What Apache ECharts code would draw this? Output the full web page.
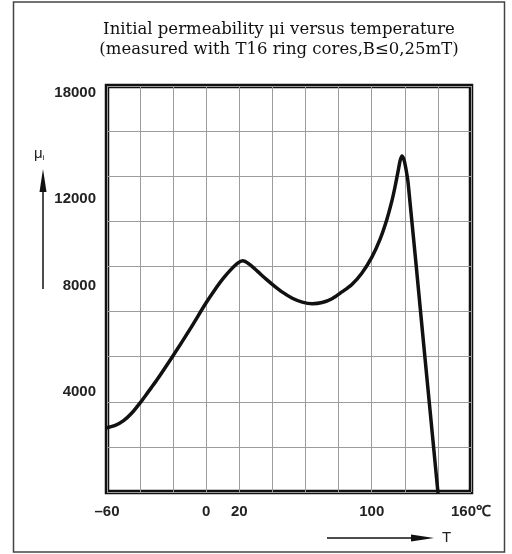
<!DOCTYPE html>
<html>
<head>
<meta charset="utf-8">
<script src="https://cdn.jsdelivr.net/npm/echarts@6/dist/echarts.min.js"></script>
<style>
  html, body { margin: 0; padding: 0; background: #fff; }
  #chart { width: 512px; height: 554px; }
</style>
</head>
<body>
<div id="chart"></div>
<script>
// temperature (°C) and initial permeability
const temps = [-60, -55, -50, -45, -40, -35, -30, -20, -10, 0, 5, 10, 15, 19, 22, 26, 31, 36, 41, 46, 52, 58, 64, 70, 76, 82, 88, 94, 100, 105, 109, 112, 114, 116, 117.2, 118.3, 119.4, 120.5, 122, 131, 140];
const mu = [2850, 2950, 3160, 3500, 3950, 4450, 4950, 6050, 7200, 8400, 8950, 9450, 9870, 10150, 10250, 10100, 9780, 9450, 9140, 8860, 8590, 8420, 8350, 8400, 8570, 8870, 9200, 9700, 10400, 11200, 12050, 12850, 13500, 14250, 14700, 14900, 14750, 14400, 13700, 6850, 0];

const xLabelValues = [-60, 0, 20, 100, 160];
const yLabelValues = [4000, 8000, 12000, 18000];

// the scanned labels sit a bit off their grid lines
const yLabelShift = { 4000: -10, 8000: -26, 12000: -22, 18000: 7 };

const labelFont = "'Liberation Sans', Arial, sans-serif";

const rich = {};
yLabelValues.forEach(v => {
  const s = yLabelShift[v] || 0;
  rich['s' + v] = {
    padding: s < 0 ? [0, 0, -2 * s, 0] : [2 * s, 0, 0, 0],
    fontSize: 15,
    fontWeight: 'bold',
    fontFamily: labelFont,
    color: '#222'
  };
});

const chart = echarts.init(document.getElementById('chart'));
chart.setOption({
  animation: false,
  backgroundColor: '#fff',
  title: {
    text: 'Initial permeability μi versus temperature\n(measured with T16 ring cores,B≤0,25mT)',
    left: 274,
    top: 15,
    textAlign: 'center',
    textStyle: {
      fontFamily: "'DejaVu Serif', 'Liberation Serif', serif",
      fontWeight: 'normal',
      fontSize: 16.5,
      lineHeight: 20,
      color: '#111'
    }
  },
  grid: {
    left: 107,
    right: 41,
    top: 86,
    bottom: 62,
    show: true,
    borderWidth: 4.5,
    borderColor: '#111',
    backgroundColor: 'transparent'
  },
  xAxis: {
    type: 'value',
    min: -60,
    max: 160,
    interval: 20,
    axisLine: { show: false },
    axisTick: { show: false },
    splitLine: { show: true, lineStyle: { color: '#9c9c9c', width: 1 } },
    axisLabel: {
      margin: 12,
      fontSize: 15,
      fontWeight: 'bold',
      fontFamily: labelFont,
      color: '#222',
      formatter: v => {
        if (xLabelValues.indexOf(v) < 0) return '';
        if (v === 160) return '160℃';
        if (v < 0) return '–' + Math.abs(v);
        return String(v);
      }
    }
  },
  yAxis: {
    type: 'value',
    min: 0,
    max: 18000,
    interval: 2000,
    axisLine: { show: false },
    axisTick: { show: false },
    splitLine: { show: true, lineStyle: { color: '#9c9c9c', width: 1 } },
    axisLabel: {
      margin: 11,
      fontSize: 15,
      fontWeight: 'bold',
      fontFamily: labelFont,
      color: '#222',
      formatter: v => yLabelValues.indexOf(v) < 0 ? '' : '{s' + v + '|' + v + '}',
      rich: rich
    }
  },
  series: [
    {
      type: 'line',
      data: temps.map((t, i) => [t, mu[i]]),
      smooth: 0.3,
      showSymbol: false,
      lineStyle: { color: '#111', width: 3.5, join: 'round', cap: 'round' }
    }
  ],
  graphic: [
    // outer frame
    {
      type: 'rect',
      shape: { x: 13.5, y: 2, width: 491, height: 550 },
      style: { fill: 'none', stroke: '#444', lineWidth: 1.5 }
    },
    // mu arrow
    {
      type: 'line',
      shape: { x1: 43, y1: 289, x2: 43, y2: 180 },
      style: { stroke: '#111', lineWidth: 1.5 }
    },
    {
      type: 'polygon',
      shape: { points: [[43, 169], [39.5, 192], [46.5, 192]] },
      style: { fill: '#111' }
    },
    {
      type: 'text',
      left: 34,
      top: 146,
      style: {
        text: '{a|μ}{b|i}',
        rich: {
          a: { fontSize: 15, fontFamily: labelFont, fill: '#222' },
          b: { fontSize: 8, fontFamily: labelFont, fill: '#222', padding: [8, 0, 0, 0] }
        }
      }
    },
    // T arrow
    {
      type: 'line',
      shape: { x1: 327, y1: 538, x2: 420, y2: 538 },
      style: { stroke: '#111', lineWidth: 1.5 }
    },
    {
      type: 'polygon',
      shape: { points: [[434, 538], [411, 534.5], [411, 541.5]] },
      style: { fill: '#111' }
    },
    {
      type: 'text',
      left: 442,
      top: 530,
      style: { text: 'T', fontSize: 15, fontFamily: labelFont, fill: '#222' }
    }
  ]
});
</script>
</body>
</html>
